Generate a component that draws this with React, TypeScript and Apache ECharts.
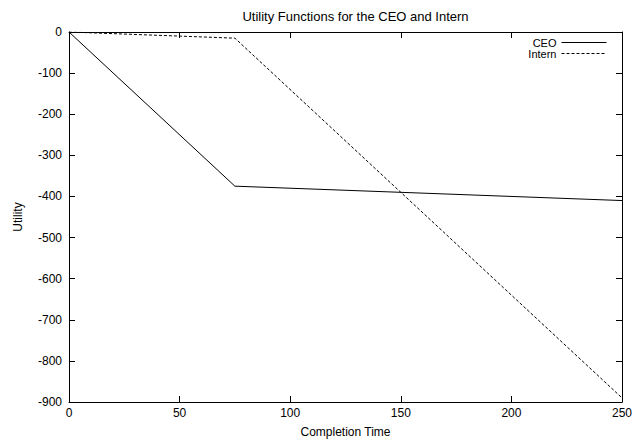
import React, { useEffect, useRef } from "react";
import * as echarts from "echarts";

const title = "Utility Functions for the CEO and Intern";
const xName = "Completion Time";
const yName = "Utility";
const ceoPoints: [number, number][] = [[0, 0], [75, -375], [250, -410]];
const internPoints: [number, number][] = [[0, 0], [75, -15], [250, -890]];
const xMin = 0, xMax = 250, xStep = 50;
const yMin = -900, yMax = 0, yStep = 100;

const FONT = "Liberation Sans, Arial, Helvetica, sans-serif";

export default function App() {
  const ref = useRef<HTMLDivElement>(null);
  useEffect(() => {
    if (!ref.current) return;
    const chart = echarts.init(ref.current, undefined, { renderer: "svg" });
    const axisLine = { show: true, onZero: false, lineStyle: { color: "#000", width: 1 } };
    const tick = { show: true, inside: true, length: 6, lineStyle: { color: "#000", width: 1 } };
    chart.setOption({
      animation: false,
      backgroundColor: "#fff",
      textStyle: { fontFamily: FONT },
      title: {
        text: title,
        left: 350.5,
        textAlign: "center",
        top: 5,
        textStyle: { fontSize: 13, fontWeight: "normal", color: "#000", fontFamily: FONT },
      },
      legend: {
        orient: "vertical",
        right: 37,
        top: 37,
        padding: 0,
        align: "right",
        itemGap: 0,
        itemWidth: 45,
        itemHeight: 10,
        itemStyle: { opacity: 0 },
        lineStyle: { width: 1 },
        textStyle: { fontSize: 11, color: "#000", fontFamily: FONT },
        data: ["CEO", "Intern"],
      },
      grid: { left: 69, right: 22, top: 32, bottom: 39 },
      xAxis: [
        {
          type: "value", min: xMin, max: xMax, interval: xStep,
          name: xName, nameLocation: "middle", nameGap: 24,
          nameTextStyle: { fontSize: 12, color: "#000", fontFamily: FONT },
          axisLine, axisTick: tick, splitLine: { show: false },
          axisLabel: { fontSize: 12, color: "#000", margin: 5, fontFamily: FONT },
        },
        {
          type: "value", position: "top", min: xMin, max: xMax, interval: xStep,
          axisLine, axisTick: tick, splitLine: { show: false }, axisLabel: { show: false },
        },
      ],
      yAxis: [
        {
          type: "value", min: yMin, max: yMax, interval: yStep,
          name: yName, nameLocation: "middle", nameGap: 45, nameRotate: 90,
          nameTextStyle: { fontSize: 12, color: "#000", fontFamily: FONT },
          axisLine, axisTick: tick, splitLine: { show: false },
          axisLabel: { fontSize: 12, color: "#000", margin: 7, fontFamily: FONT },
        },
        {
          type: "value", position: "right", min: yMin, max: yMax, interval: yStep,
          axisLine, axisTick: tick, splitLine: { show: false }, axisLabel: { show: false },
        },
      ],
      series: [
        {
          name: "CEO", type: "line", data: ceoPoints, symbol: "none",
          lineStyle: { color: "#000", width: 1, type: "solid" }, itemStyle: { color: "#000" },
        },
        {
          name: "Intern", type: "line", data: internPoints, symbol: "none",
          lineStyle: { color: "#000", width: 1, type: [3, 2] }, itemStyle: { color: "#000" },
        },
      ],
    });
    return () => chart.dispose();
  }, []);
  return (
    <div
      ref={ref}
      style={{ position: "fixed", left: 0, top: 0, width: 644, height: 443 }}
    />
  );
}
